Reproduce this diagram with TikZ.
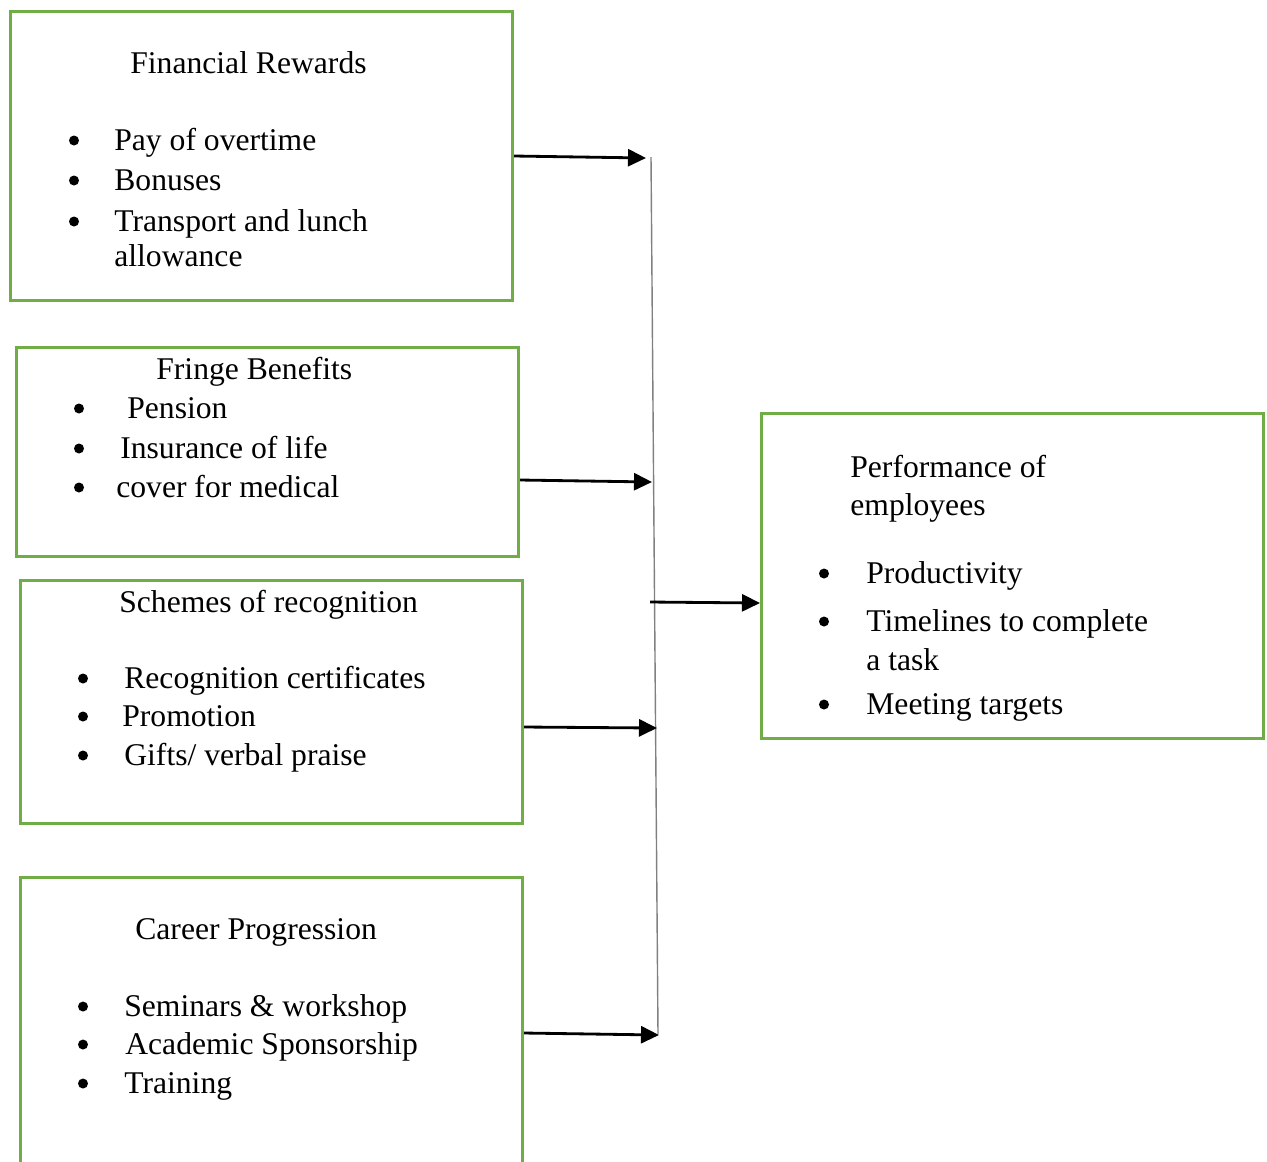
\documentclass[tikz,border=0pt]{standalone}
\usepackage{fontspec}
\setmainfont{Liberation Serif}
\usetikzlibrary{positioning,arrows.meta}
\definecolor{boxgreen}{RGB}{112,173,71}
\tikzset{
  green box/.style={draw=boxgreen, line width=1.8pt, anchor=north west, minimum width=10.04cm, inner sep=0pt},
  txt/.style={anchor=base west, inner sep=0pt, font=\fontsize{18}{22}\selectfont},
  dot/.style={circle, fill=black, inner sep=0pt, minimum size=0.2cm, yshift=0.19cm},
  join line/.style={draw=gray, line width=0.8pt},
  link arrow/.style={-{Triangle[length=0.36cm,width=0.34cm]}, line width=1.6pt},
}

\begin{document}
\begin{tikzpicture}[x=0.02cm,y=-0.02cm]
\useasboundingbox (0,0) rectangle (1267,1161);
% the boxes
\node [green box, minimum height=5.78cm] (rewA) at (9,10) {};
\node [green box, minimum height=4.18cm] (rewB) at (15,346) {};
\node [green box, minimum height=4.86cm] (rewC) at (19,579) {};
\node [green box, minimum height=6.08cm] (rewD) at (19,876) {};
\node [green box, minimum height=6.5cm] (perf) at (760,412) {};

% texts of the first box
\node [txt] (rewAt) at (130,73) {Financial Rewards};
\node [dot] (rewAd1) at (74,150) {};
\node [txt] (rewA1) at (114,150) {Pay of overtime};
\node [dot] (rewAd2) at (74,190) {};
\node [txt] (rewA2) at (114,190) {Bonuses};
\node [dot] (rewAd3) at (74,231) {};
\node [txt] (rewA3) at (114,231) {Transport and lunch};
\node [txt] (rewA4) at (114,266) {allowance};

% texts of the second box
\node [txt] (rewBt) at (156,379) {Fringe Benefits};
\node [dot] (rewBd1) at (79,418) {};
\node [txt] (rewB1) at (127,418) {Pension};
\node [dot] (rewBd2) at (79,458) {};
\node [txt] (rewB2) at (120,458) {Insurance of life};
\node [dot] (rewBd3) at (79,497) {};
\node [txt] (rewB3) at (116,497) {cover for medical};

% texts of the third box
\node [txt] (rewCt) at (119,612) {Schemes of recognition};
\node [dot] (rewCd1) at (83,688) {};
\node [txt] (rewC1) at (124,688) {Recognition certificates};
\node [dot] (rewCd2) at (83,726) {};
\node [txt] (rewC2) at (122,726) {Promotion};
\node [dot] (rewCd3) at (83,765) {};
\node [txt] (rewC3) at (124,765) {Gifts/ verbal praise};

% texts of the fourth box
\node [txt] (rewDt) at (135,939) {Career Progression};
\node [dot] (rewDd1) at (83,1016) {};
\node [txt] (rewD1) at (124,1016) {Seminars \& workshop};
\node [dot] (rewDd2) at (83,1054) {};
\node [txt] (rewD2) at (125,1054) {Academic Sponsorship};
\node [dot] (rewDd3) at (83,1093) {};
\node [txt] (rewD3) at (124,1093) {Training};

% texts of the result box
\node [txt] (perft1) at (850,477) {Performance of};
\node [txt] (perft2) at (850,515) {employees};
\node [dot] (perfd1) at (824,583) {};
\node [txt] (perf1) at (866,583) {Productivity};
\node [dot] (perfd2) at (824,631) {};
\node [txt] (perf2) at (866,631) {Timelines to complete};
\node [txt] (perf3) at (866,670) {a task};
\node [dot] (perfd3) at (824,714) {};
\node [txt] (perf4) at (866,714) {Meeting targets};

% the joining line
\coordinate (lineTop) at (651,157);
\coordinate (lineBot) at (658,1034);
\coordinate (tipA) at (646,158);
\coordinate (tipB) at (652,482);
\coordinate (tipC) at (657,728);
\coordinate (tipD) at (659,1035);
\coordinate (joinE) at (650,602);
\draw[join line] (lineTop) -- (lineBot);

%drawings of vectors
\draw[link arrow] (rewA.east |- 0,156) -- (tipA);
\draw[link arrow] (rewB.east |- 0,480) -- (tipB);
\draw[link arrow] (rewC.east |- 0,727) -- (tipC);
\draw[link arrow] (rewD.east |- 0,1033) -- (tipD);
\draw[link arrow] (joinE) -- (perf.west |- 0,603);
\end{tikzpicture}
\end{document}
